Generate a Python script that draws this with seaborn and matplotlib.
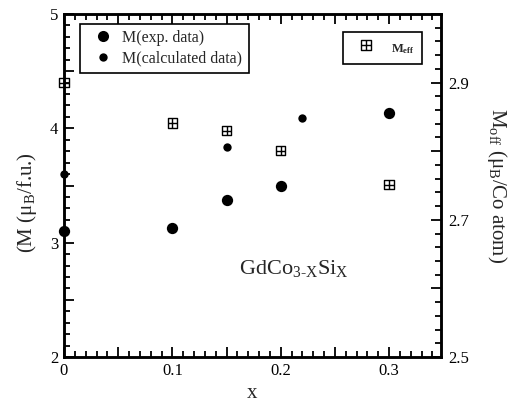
import numpy as np
import pandas as pd
import matplotlib
matplotlib.use('Agg')
import matplotlib.pyplot as plt
import seaborn as sns
from matplotlib.path import Path
from matplotlib.lines import Line2D
from matplotlib.ticker import MultipleLocator, FuncFormatter

# ---- data ----
x_exp = [0.0, 0.1, 0.15, 0.2, 0.3]
m_exp = [3.10, 3.13, 3.37, 3.50, 4.13]
x_calc = [0.0, 0.15, 0.22]
m_calc = [3.60, 3.84, 4.09]
x_eff = [0.0, 0.1, 0.15, 0.2, 0.3]
m_eff = [2.900, 2.841, 2.830, 2.801, 2.751]

left_ticks = [2, 3, 4, 5]
right_ticks = [2.5, 2.7, 2.9]
x_ticks = [0, 0.1, 0.2, 0.3]

sns.set_theme(style='ticks')
plt.rcParams['font.family'] = ['Liberation Serif', 'DejaVu Serif']
plt.rcParams['mathtext.fontset'] = 'custom'
plt.rcParams['mathtext.rm'] = 'Liberation Serif'
plt.rcParams['mathtext.bf'] = 'Liberation Serif:bold'
plt.rcParams['mathtext.it'] = 'Liberation Serif:italic'

# square-with-plus marker
verts = [(-1, -1), (1, -1), (1, 1), (-1, 1), (-1, -1),
         (0, -1), (0, 1), (-1, 0), (1, 0)]
codes = [Path.MOVETO, Path.LINETO, Path.LINETO, Path.LINETO, Path.CLOSEPOLY,
         Path.MOVETO, Path.LINETO, Path.MOVETO, Path.LINETO]
boxplus = Path(verts, codes)

fig = plt.figure(figsize=(5.08, 4.08), dpi=100)
ax = fig.add_axes([64/508, 51/408, 377/508, 343/408])
ax2 = ax.twinx()

df_exp = pd.DataFrame({'x': x_exp, 'M': m_exp})
df_calc = pd.DataFrame({'x': x_calc, 'M': m_calc})
df_eff = pd.DataFrame({'x': x_eff, 'M': m_eff})

sns.scatterplot(data=df_exp, x='x', y='M', ax=ax, marker='o', s=66,
                color='black', edgecolor='black', linewidth=0, zorder=5, clip_on=False)
sns.scatterplot(data=df_calc, x='x', y='M', ax=ax, marker='o', s=36,
                color='black', edgecolor='black', linewidth=0, zorder=5, clip_on=False)
sns.scatterplot(data=df_eff, x='x', y='M', ax=ax2, marker=boxplus, s=45,
                facecolors='none', edgecolor='black', linewidth=1.0, zorder=5, clip_on=False)

ax.set_xlim(0, 0.348)
ax.set_ylim(2, 5)
ax2.set_ylim(2.5, 3.0)

for a in (ax, ax2):
    for sp in a.spines.values():
        sp.set_linewidth(1.8)
        sp.set_color('black')

ax.xaxis.set_major_locator(MultipleLocator(0.05))
ax.xaxis.set_minor_locator(MultipleLocator(0.01))
ax.xaxis.set_major_formatter(FuncFormatter(
    lambda v, p: ('0' if abs(v) < 1e-9 else f'{v:.1f}') if any(abs(v - t) < 1e-9 for t in x_ticks) else ''))
ax.yaxis.set_major_locator(MultipleLocator(0.5))
ax.yaxis.set_minor_locator(MultipleLocator(0.1))
ax.yaxis.set_major_formatter(FuncFormatter(
    lambda v, p: f'{int(round(v))}' if any(abs(v - t) < 1e-9 for t in left_ticks) else ''))
ax2.yaxis.set_major_locator(MultipleLocator(0.1))
ax2.yaxis.set_minor_locator(MultipleLocator(0.02))
ax2.yaxis.set_major_formatter(FuncFormatter(
    lambda v, p: f'{v:.1f}' if any(abs(v - t) < 1e-9 for t in right_ticks) else ''))

ax.tick_params(axis='both', which='both', direction='in', colors='black',
               labelsize=12, width=1.3, top=True, right=False)
ax.tick_params(axis='both', which='major', length=7, pad=4)
ax.tick_params(axis='both', which='minor', length=4)
ax2.tick_params(axis='y', which='both', direction='in', colors='black',
                labelsize=12, width=1.3)
ax2.tick_params(axis='y', which='major', length=7, pad=5)
ax2.tick_params(axis='y', which='minor', length=4)

ax.set_xlabel('x', fontsize=15, labelpad=4)
ax.set_ylabel('(M (μ$_{\\rm B}$/f.u.)', fontsize=15)
ax.yaxis.set_label_coords(-0.066, 0.45)
ax2.set_ylabel('M$_{\\rm off}$ (μ$_{\\rm B}$/Co atom)', fontsize=15, rotation=-90, labelpad=29)

ax.text(0.61, 0.257, 'GdCo$_{\\rm 3\\text{-}X}$Si$_{\\rm X}$', fontsize=16,
        ha='center', va='center', transform=ax.transAxes)

h1 = [Line2D([], [], ls='none', marker='o', ms=8, color='black', mew=0),
      Line2D([], [], ls='none', marker='o', ms=6, color='black', mew=0)]
leg1 = ax.legend(h1, ['M(exp. data)', 'M(calculated data)'], loc='upper left',
                 bbox_to_anchor=(0.0415, 0.971), borderaxespad=0, fontsize=11.5,
                 frameon=True, fancybox=False, edgecolor='black', framealpha=1,
                 handlelength=2.2, handletextpad=0.1, borderpad=0.38, labelspacing=0.3)
leg1.get_frame().set_linewidth(1.2)

h2 = [Line2D([], [], ls='none', marker=boxplus, ms=7, mfc='none', mec='black', mew=1.0)]
leg2 = ax2.legend(h2, [r'$\mathbf{M_{eff}}$'], loc='upper right',
                  bbox_to_anchor=(0.949, 0.948), borderaxespad=0, fontsize=9,
                  frameon=True, fancybox=False, edgecolor='black', framealpha=1,
                  handlelength=2.6, handletextpad=0.7, borderpad=0.55, handleheight=1.9)
leg2.get_frame().set_linewidth(1.2)

fig.savefig('out.png', dpi=100)
